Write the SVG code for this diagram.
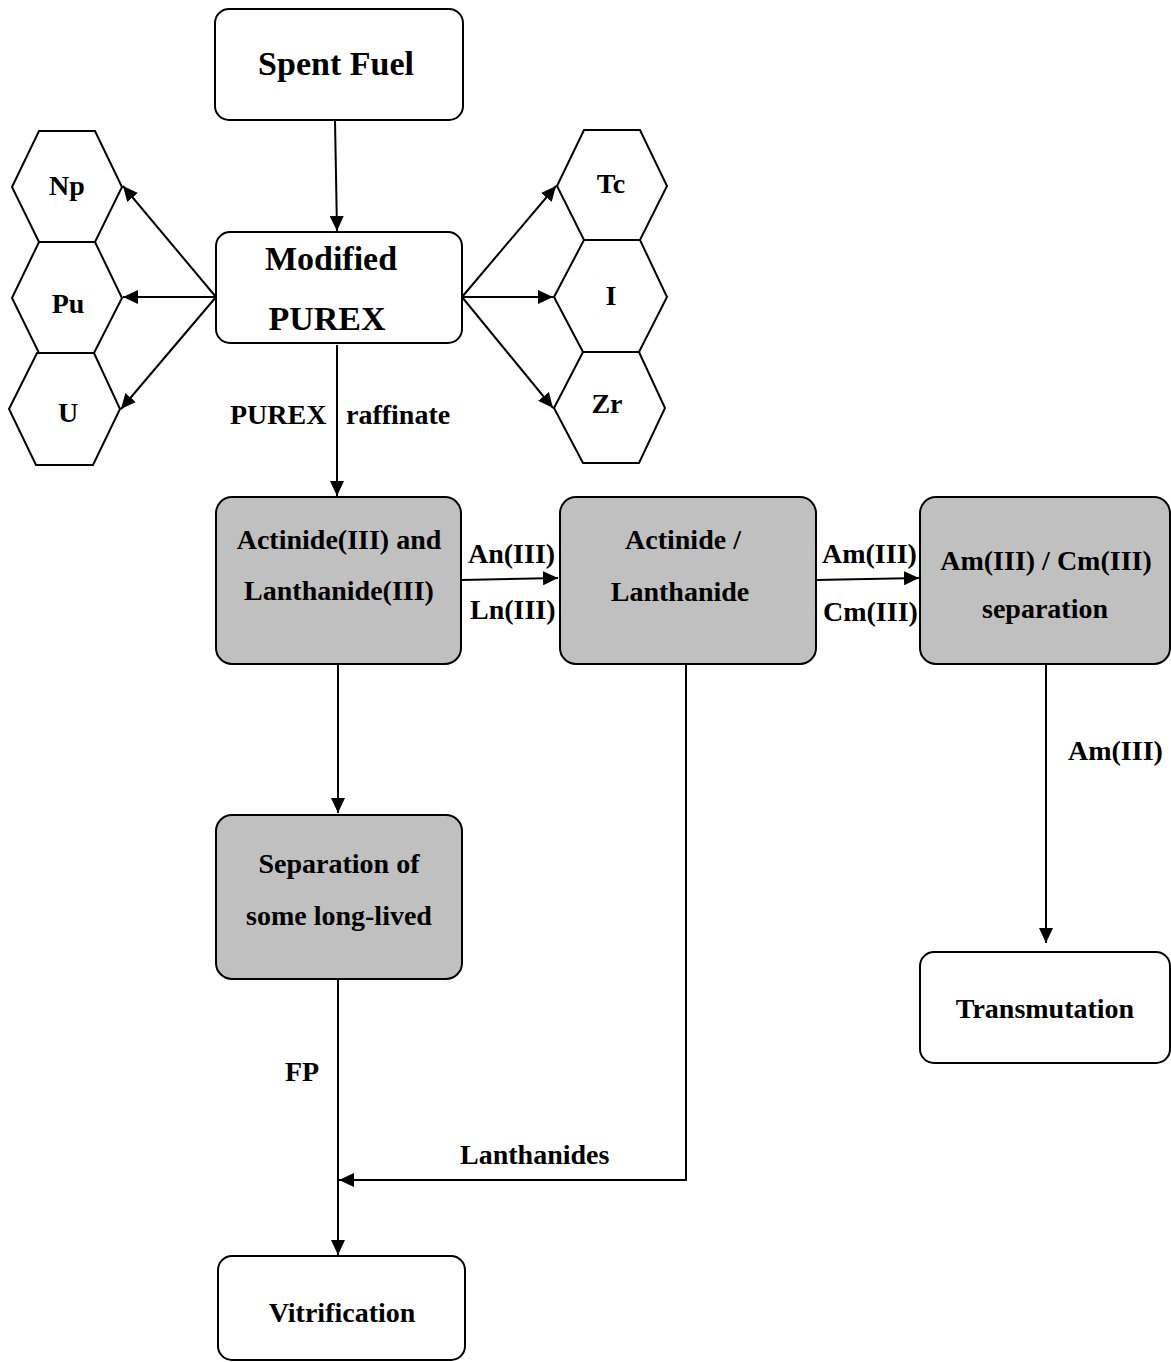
<svg xmlns="http://www.w3.org/2000/svg" width="1171" height="1362" viewBox="0 0 1171 1362">
<style>
.box{fill:#fff;stroke:#000;stroke-width:2}
.grey{fill:#c0c0c0;stroke:#000;stroke-width:2}
.hex{fill:#fff;stroke:#000;stroke-width:2}
.t{font-family:"Liberation Serif","Times New Roman",serif;font-weight:bold;font-size:28px;fill:#000}
.big{font-size:34px}
.m{text-anchor:middle}
.c{fill:none;stroke:#000;stroke-width:2}
</style>
<defs>
<marker id="ah" markerUnits="userSpaceOnUse" markerWidth="16" markerHeight="14" refX="15" refY="7" orient="auto">
<path d="M0,0 L15,7 L0,14 Z" fill="#000"/>
</marker>
</defs>

<g id="spent-fuel">
<rect class="box" x="215" y="9" width="248" height="111" rx="14"/>
<text class="t big m" x="336" y="75">Spent Fuel</text>
</g>
<g id="modified-purex">
<rect class="box" x="216" y="232" width="246" height="111" rx="14"/>
<text class="t big m" x="331" y="270">Modified</text>
<text class="t big m" x="327" y="330">PUREX</text>
</g>
<g id="hex-np">
<polygon class="hex" points="12,187 39,131 95,131 122,187 95,242 39,242"/>
<text class="t m" x="67" y="195">Np</text>
</g>
<g id="hex-pu">
<polygon class="hex" points="12,298 39,242 95,242 122,298 94,353 39,353"/>
<text class="t m" x="68" y="313">Pu</text>
</g>
<g id="hex-u">
<polygon class="hex" points="9,409 37,353 94,353 120,409 93,465 36,465"/>
<text class="t m" x="68" y="422">U</text>
</g>
<g id="hex-tc">
<polygon class="hex" points="557,186 584,130 640,130 667,186 640,240 584,240"/>
<text class="t m" x="611" y="193">Tc</text>
</g>
<g id="hex-i">
<polygon class="hex" points="554,297 584,240 640,240 667,297 639,352 583,352"/>
<text class="t m" x="611" y="305">I</text>
</g>
<g id="hex-zr">
<polygon class="hex" points="554,408 583,352 639,352 665,408 639,463 583,463"/>
<text class="t m" x="607" y="413">Zr</text>
</g>
<g id="an-ln">
<rect class="grey" x="216" y="497" width="245" height="167" rx="16"/>
<text class="t m" x="339" y="549">Actinide(III) and</text>
<text class="t m" x="339" y="600">Lanthanide(III)</text>
</g>
<g id="actinide-lanthanide">
<rect class="grey" x="560" y="497" width="256" height="167" rx="16"/>
<text class="t m" x="683" y="549">Actinide /</text>
<text class="t m" x="680" y="601">Lanthanide</text>
</g>
<g id="am-cm">
<rect class="grey" x="920" y="497" width="250" height="167" rx="16"/>
<text class="t m" x="1046" y="570">Am(III) / Cm(III)</text>
<text class="t m" x="1045" y="618">separation</text>
</g>
<g id="separation">
<rect class="grey" x="216" y="815" width="246" height="164" rx="16"/>
<text class="t m" x="339" y="873">Separation of</text>
<text class="t m" x="339" y="925">some long-lived</text>
</g>
<g id="transmutation">
<rect class="box" x="920" y="952" width="250" height="111" rx="14"/>
<text class="t m" x="1045" y="1018">Transmutation</text>
</g>
<g id="vitrification">
<rect class="box" x="218" y="1256" width="247" height="104" rx="14"/>
<text class="t m" x="342" y="1322">Vitrification</text>
</g>

<g id="connectors">
<line class="c" x1="335" y1="120" x2="337" y2="231" marker-end="url(#ah)"/>
<line class="c" x1="216" y1="297" x2="123" y2="186" marker-end="url(#ah)"/>
<line class="c" x1="216" y1="297" x2="123" y2="297" marker-end="url(#ah)"/>
<line class="c" x1="216" y1="297" x2="121" y2="409" marker-end="url(#ah)"/>
<line class="c" x1="462" y1="297" x2="556" y2="186" marker-end="url(#ah)"/>
<line class="c" x1="462" y1="297" x2="553" y2="297" marker-end="url(#ah)"/>
<line class="c" x1="462" y1="297" x2="553" y2="408" marker-end="url(#ah)"/>
<line class="c" x1="337" y1="345" x2="337" y2="496" marker-end="url(#ah)"/>
<line class="c" x1="461" y1="580" x2="558" y2="578" marker-end="url(#ah)"/>
<line class="c" x1="816" y1="580" x2="919" y2="578" marker-end="url(#ah)"/>
<line class="c" x1="338" y1="664" x2="338" y2="813" marker-end="url(#ah)"/>
<line class="c" x1="1046" y1="664" x2="1046" y2="943" marker-end="url(#ah)"/>
<line class="c" x1="338" y1="979" x2="338" y2="1255" marker-end="url(#ah)"/>
<polyline class="c" points="686,664 686,1180 339,1180" marker-end="url(#ah)"/>
<text class="t" x="230" y="424">PUREX</text>
<text class="t" x="346" y="424">raffinate</text>
<text class="t" x="468" y="563">An(III)</text>
<text class="t" x="470" y="619">Ln(III)</text>
<text class="t" x="822" y="563">Am(III)</text>
<text class="t" x="823" y="621">Cm(III)</text>
<text class="t" x="1068" y="760">Am(III)</text>
<text class="t" x="285" y="1081">FP</text>
<text class="t" x="460" y="1164">Lanthanides</text>
</g>
</svg>
